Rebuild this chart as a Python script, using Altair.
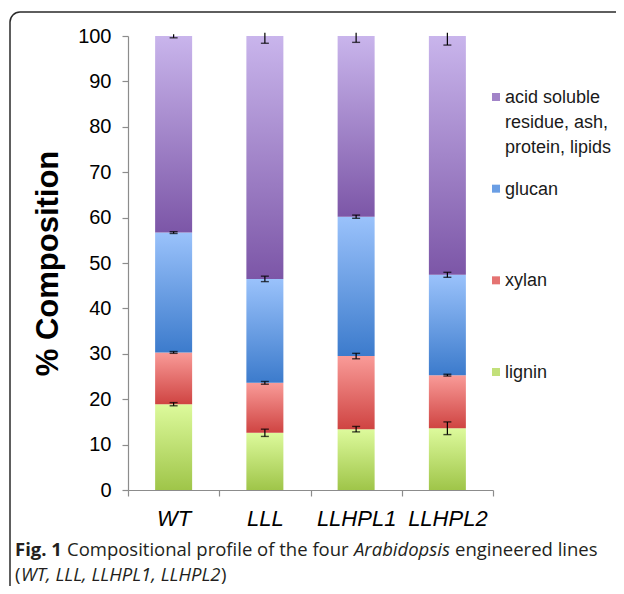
import altair as alt
import pandas as pd

# ---------------- data ----------------
lines = ["WT", "LLL", "LLHPL1", "LLHPL2"]
components = ["lignin", "xylan", "glucan", "acid"]
legend_labels = ["acid soluble\nresidue, ash,\nprotein, lipids", "glucan", "xylan", "lignin"]

lignin = [18.9, 12.6, 13.4, 13.6]
xylan = [11.4, 11.0, 16.1, 11.7]
glucan = [26.4, 22.9, 30.7, 22.1]
acid = [43.3, 53.5, 39.8, 52.6]

lignin_err = [0.35, 0.8, 0.6, 1.4]
xylan_err = [0.2, 0.3, 0.6, 0.2]
glucan_err = [0.2, 0.6, 0.35, 0.55]
acid_err = [0.4, 1.6, 1.4, 2.0]

values = {"lignin": lignin, "xylan": xylan, "glucan": glucan, "acid": acid}
errors = {"lignin": lignin_err, "xylan": xylan_err, "glucan": glucan_err, "acid": acid_err}

# gradient colours (top, bottom)
grad = {
    "lignin": ("#ddfa9c", "#9fc549"),
    "xylan": ("#f99b98", "#cf4442"),
    "glucan": ("#9ac2fb", "#3c7bcc"),
    "acid": ("#c9b5ec", "#7c56a7"),
}
legend_colors = ["#a284c8", "#6a9ee4", "#e57372", "#c2e07a"]

rows = []
for i, ln in enumerate(lines):
    for j, c in enumerate(components):
        rows.append({"line": ln, "comp": c, "order": j,
                     "value": values[c][i], "err": errors[c][i]})
df = pd.DataFrame(rows)

df_leg = pd.DataFrame({"label": legend_labels, "color": legend_colors})
one = pd.DataFrame({"k": [0]})

FONT = "Liberation Sans"
AX_COL = "#8c8c8c"

x_enc = alt.X(
    "line:N", sort=lines,
    scale=alt.Scale(paddingInner=0, paddingOuter=0),
    axis=alt.Axis(title=None, labelAngle=0, labelFont=FONT, labelFontStyle="italic",
                  labelFontSize=22, labelColor="black", tickBand="extent", tickSize=6,
                  domainColor=AX_COL, tickColor=AX_COL, domainWidth=1.2, tickWidth=1.2,
                  labelPadding=12, grid=False),
)
y_scale = alt.Scale(domain=[0, 100], nice=False)
y_axis = alt.Axis(values=list(range(0, 101, 10)), title="% Composition",
                  titleFont=FONT, titleFontSize=31, titleFontWeight="bold", titleColor="black",
                  titleAngle=270, titleX=-71, titleY=227, titleBaseline="alphabetic",
                  titleAlign="center", labelFont=FONT, labelFontSize=20, labelColor="black",
                  tickSize=6, labelPadding=11, grid=False, domainColor=AX_COL,
                  tickColor=AX_COL, domainWidth=1.2, tickWidth=1.2)

base = alt.Chart(df).transform_stack(
    stack="value", groupby=["line"], as_=["y0", "y1"],
    sort=[alt.SortField("order", order="ascending")],
)

layers = []
for c in components:
    top, bottom = grad[c]
    fill = {"gradient": "linear", "x1": 0, "y1": 0, "x2": 0, "y2": 1,
            "stops": [{"offset": 0, "color": top}, {"offset": 1, "color": bottom}]}
    layers.append(
        base.transform_filter(alt.datum.comp == c)
        .mark_bar(size=37, fill=fill)
        .encode(x=x_enc, y=alt.Y("y1:Q", scale=y_scale, axis=y_axis), y2="y0:Q")
    )

err_base = base.transform_calculate(
    lo="datum.y1 - datum.err",
    hicap="datum.y1 + datum.err",
    hi="min(datum.y1 + datum.err, 100.7)",
)
rule = err_base.mark_rule(color="black", strokeWidth=1.2).encode(
    x=x_enc, y=alt.Y("lo:Q", scale=y_scale, axis=y_axis), y2="hi:Q")
lo_cap = err_base.mark_tick(color="black", size=8, thickness=1.4).encode(
    x=x_enc, y=alt.Y("lo:Q", scale=y_scale, axis=y_axis))
hi_cap = err_base.transform_filter("datum.hicap <= 100").mark_tick(
    color="black", size=8, thickness=1.4).encode(
    x=x_enc, y=alt.Y("hicap:Q", scale=y_scale, axis=y_axis))

main = alt.layer(*layers, rule, lo_cap, hi_cap)

# ---------------- legend ----------------
leg_y = alt.Y("label:N", sort=legend_labels,
              scale=alt.Scale(type="point", range=[61, 336], padding=0), axis=None)
leg_sq = alt.Chart(df_leg).mark_square(size=64, opacity=1).encode(
    x=alt.value(368), y=leg_y,
    color=alt.Color("label:N", scale=alt.Scale(domain=legend_labels, range=legend_colors),
                    legend=None))
leg_tx = alt.Chart(df_leg).mark_text(
    align="left", baseline="alphabetic", dx=9, dy=6, lineBreak="\n",
    fontSize=18, lineHeight=25, font=FONT, color="#1a1a1a").encode(
    x=alt.value(368), y=leg_y, text="label:N")
legend = alt.layer(leg_sq, leg_tx)

# ---------------- frame & caption ----------------
frame = alt.Chart(one).mark_rect(
    cornerRadius=10, fillOpacity=0, stroke="#2a2a2a", strokeWidth=1.5).encode(
    x=alt.value(-118), x2=alt.value(900), y=alt.value(-24), y2=alt.value(900))

CAP_FONT = "Open Sans"
CAP_SIZE = 18.5
caption_parts = [
    ("Fig. 1", "bold", "normal", -113, 514),
    ("Compositional profile of the four", "normal", "normal", -61, 514),
    ("Arabidopsis", "normal", "italic", 226, 514),
    ("engineered lines", "normal", "normal", 327, 514),
    ("(", "normal", "normal", -113, 539),
    ("WT, LLL, LLHPL1, LLHPL2", "normal", "italic", -107, 539),
    (")", "normal", "normal", 93, 539),
]
captions = []
for txt, wt, st, cx, cy in caption_parts:
    captions.append(
        alt.Chart(one).mark_text(text=txt, align="left", baseline="middle",
                                 font=CAP_FONT, fontSize=CAP_SIZE, fontWeight=wt,
                                 fontStyle=st, color="#231f20")
        .encode(x=alt.value(cx), y=alt.value(cy))
    )

chart = alt.layer(main, legend, frame, *captions).resolve_scale(y="independent").properties(
    width=365, height=454,
    padding={"left": 120, "top": 28, "right": 123, "bottom": 96},
    autosize=alt.AutoSizeParams(type="none"),
).configure_view(stroke=None)

chart.save("out.html", embed_options={"renderer": "svg", "actions": False})
